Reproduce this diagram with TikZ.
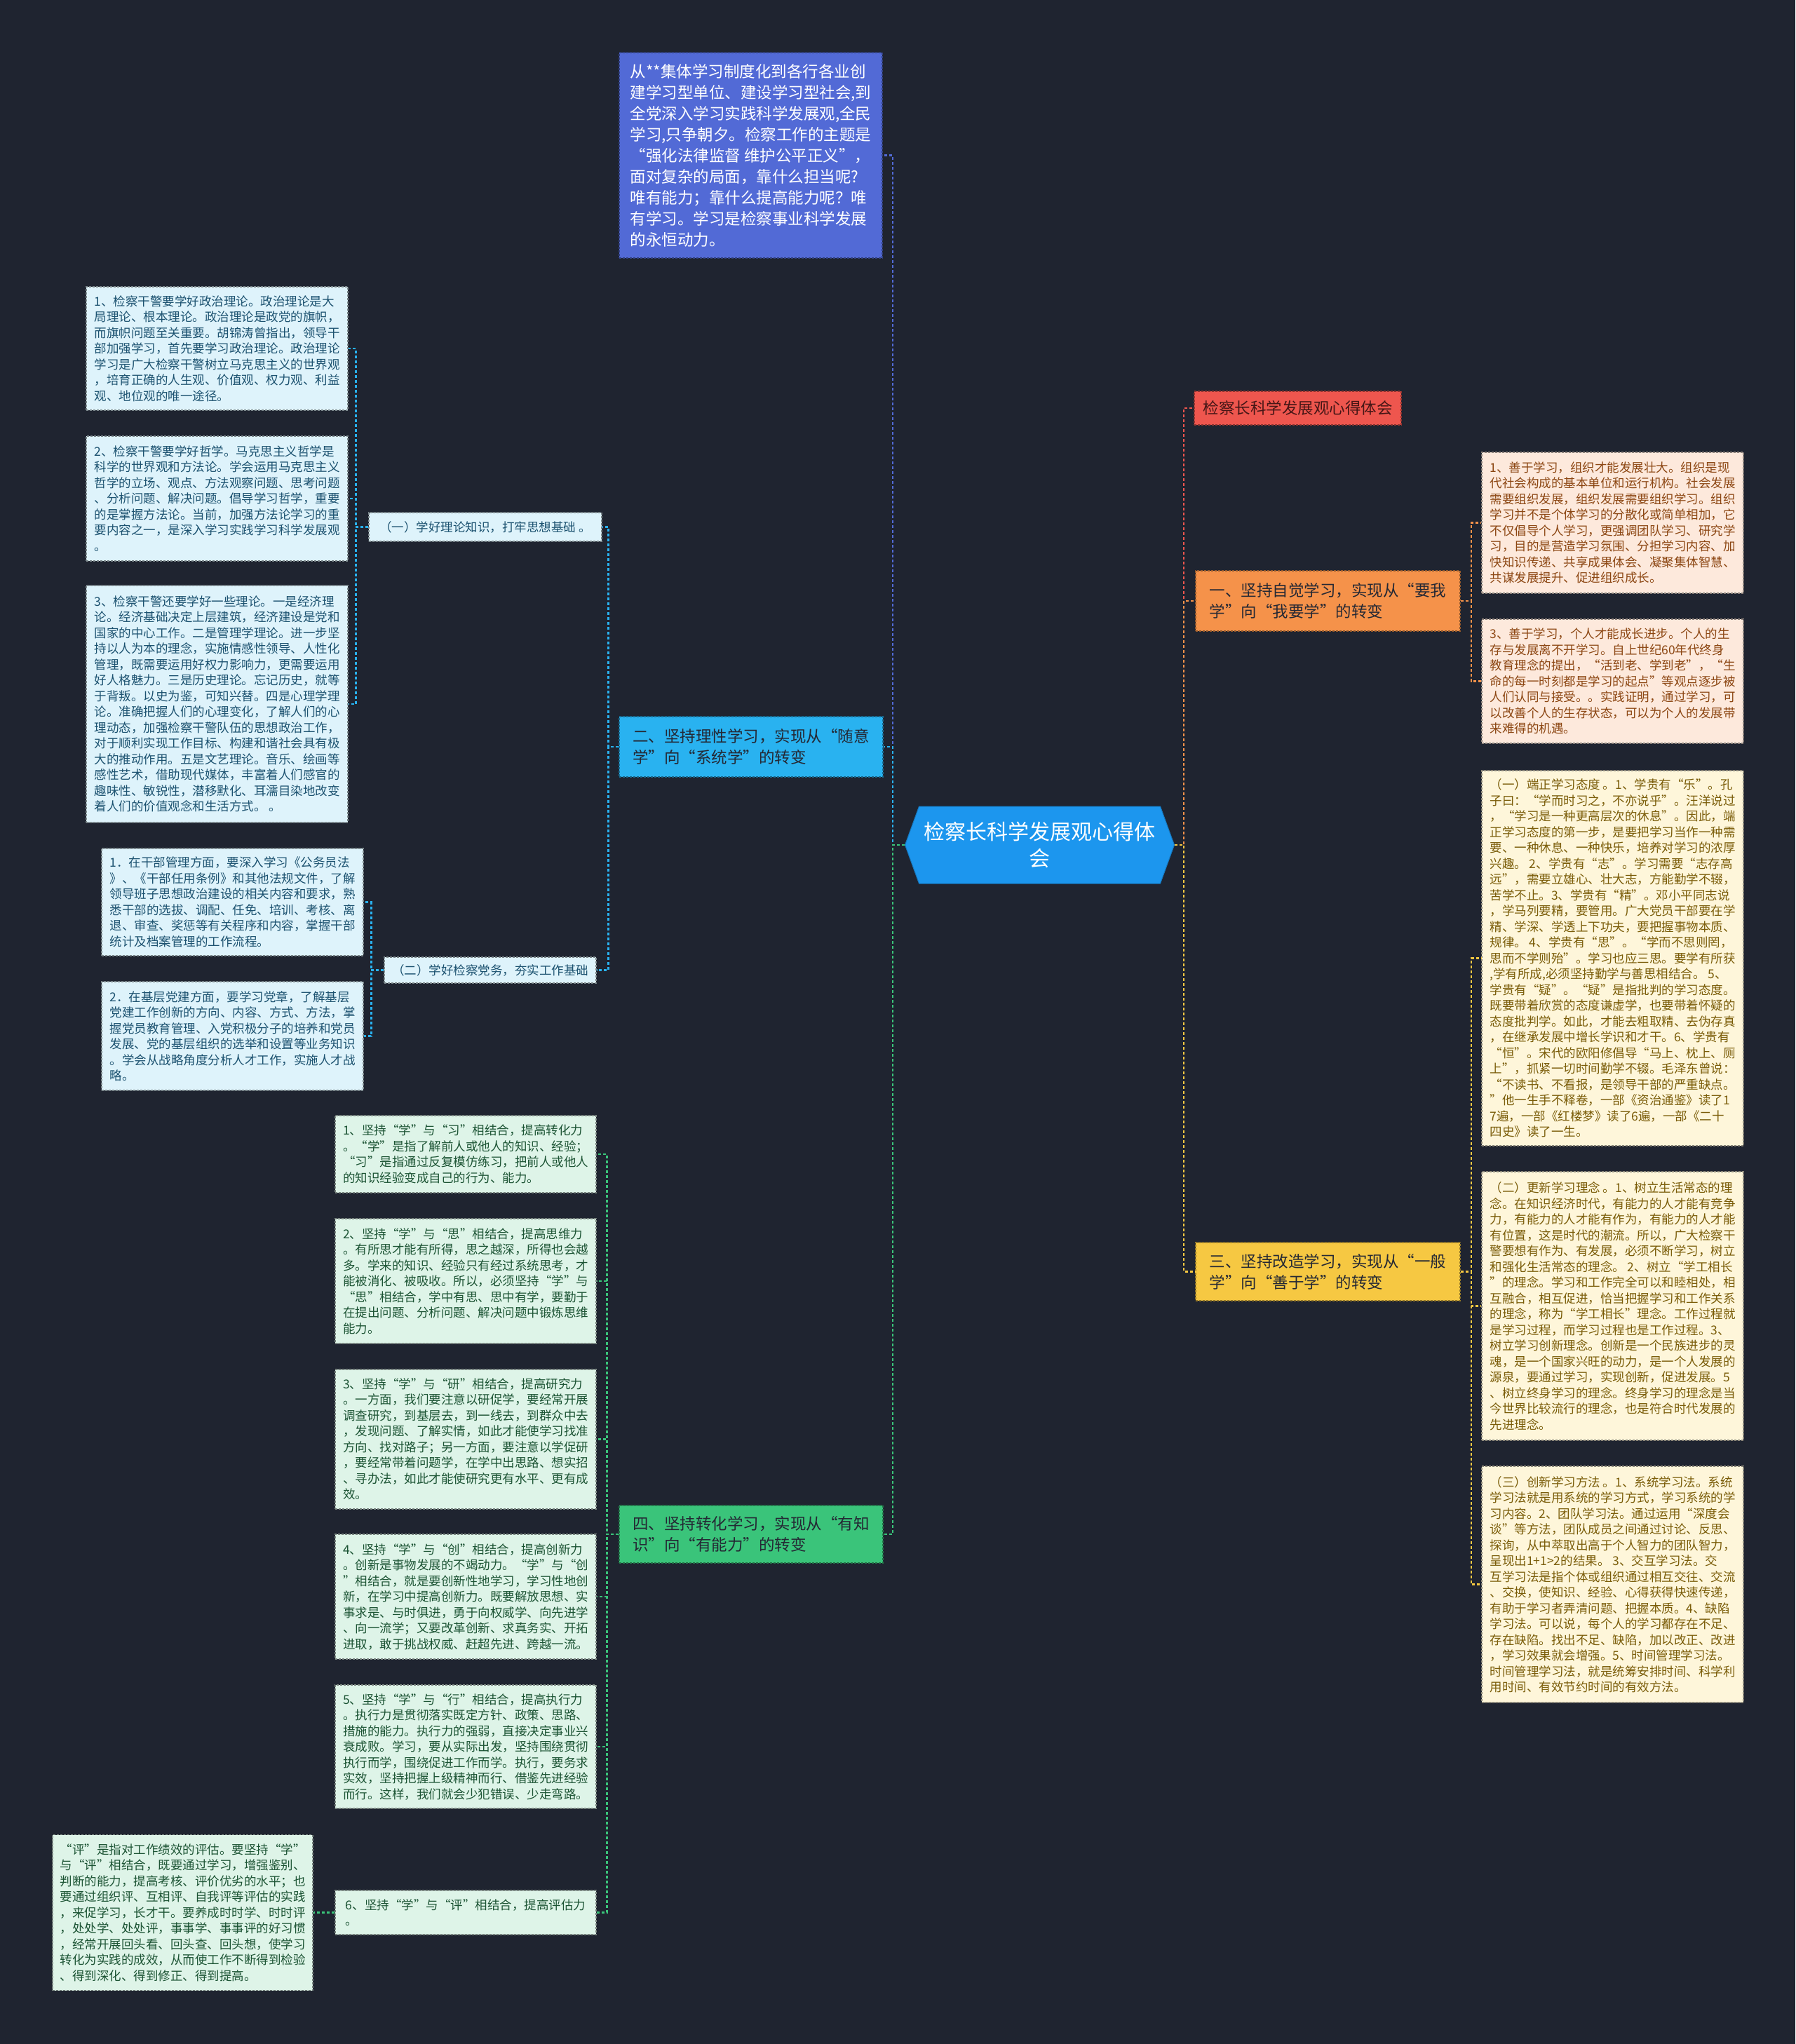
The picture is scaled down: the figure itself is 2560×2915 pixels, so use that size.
\documentclass[tikz,border=0pt]{standalone}
\usepackage{fontspec}
\setmainfont{Noto Sans CJK SC}
\usetikzlibrary{shapes.symbols}
\definecolor{bg}{RGB}{31,36,48}
\definecolor{topblue}{RGB}{82,106,214}
\definecolor{cblue}{RGB}{28,150,238}
\definecolor{bcyan}{RGB}{41,178,240}
\definecolor{bgreen}{RGB}{58,196,122}
\definecolor{bred}{RGB}{238,86,78}
\definecolor{borange}{RGB}{245,146,74}
\definecolor{byellow}{RGB}{246,200,66}
\definecolor{lblue}{RGB}{222,243,251}
\definecolor{lbluetxt}{RGB}{28,82,112}
\definecolor{lgreen}{RGB}{222,244,232}
\definecolor{lgreentxt}{RGB}{28,84,52}
\definecolor{lpeach}{RGB}{253,233,220}
\definecolor{lpeachtxt}{RGB}{140,70,18}
\definecolor{lcream}{RGB}{254,246,218}
\definecolor{lcreamtxt}{RGB}{122,92,8}
\definecolor{darktxt}{RGB}{36,40,52}
\tikzset{
  boxbase/.style={draw, dashed, dash pattern=on 3pt off 2pt, line width=1.2pt, inner sep=0pt, align=left},
  leaffont/.style={font=\fontsize{17.5}{22.5}\selectfont},
  leafblue/.style={boxbase, leaffont, fill=lblue, draw=lblue!55!black, text=lbluetxt, minimum width=373pt},
  leafgreen/.style={boxbase, leaffont, fill=lgreen, draw=lgreen!55!black, text=lgreentxt, minimum width=372pt},
  leafpeach/.style={boxbase, leaffont, fill=lpeach, draw=lpeach!55!black, text=lpeachtxt, minimum width=373pt},
  leafcream/.style={boxbase, leaffont, fill=lcream, draw=lcream!55!black, text=lcreamtxt, minimum width=373pt},
  branchbox/.style={boxbase, font=\fontsize{22.5}{30}\selectfont, text=darktxt, minimum width=376pt},
  conn/.style={line width=2.2pt, dash pattern=on 4pt off 3pt}
}
\begin{document}
\begin{tikzpicture}[x=1pt,y=-1pt]
\fill[bg] (0,0) rectangle (2560,2915);
\useasboundingbox (0,0) rectangle (2560,2915);

% center
\node[signal, signal to=west and east, signal pointer angle=140, fill=cblue, draw=cblue!80!black, line width=1pt,
  minimum width=384pt, minimum height=110pt, inner sep=0pt, align=center, text=white,
  font=\fontsize{30}{38}\selectfont] (C) at (1482.5,1205) {检察长科学发展观心得体\\会};

% top blue
\node[boxbase, fill=topblue, draw=topblue!60!black, text=white, minimum width=375pt, minimum height=293pt,
  font=\fontsize{22.5}{30}\selectfont] (TOP) at (1070.5,221.5) {从**集体学习制度化到各行各业创\\建学习型单位、建设学习型社会,到\\全党深入学习实践科学发展观,全民\\学习,只争朝夕。检察工作的主题是\\“强化法律监督 维护公平正义”，\\面对复杂的局面，靠什么担当呢?\\唯有能力；靠什么提高能力呢？唯\\有学习。学习是检察事业科学发展\\的永恒动力。};

% branch nodes
\node[branchbox, fill=bcyan, draw=bcyan!60!black, minimum height=86pt] (B2) at (1071,1065) {二、坚持理性学习，实现从“随意\\学”向“系统学”的转变};
\node[branchbox, fill=bgreen, draw=bgreen!60!black, minimum height=82pt] (B4) at (1071,2188) {四、坚持转化学习，实现从“有知\\识”向“有能力”的转变};
\node[branchbox, fill=borange, draw=borange!60!black, minimum width=377pt, minimum height=86pt] (B1) at (1893.5,857) {一、坚持自觉学习，实现从“要我\\学”向“我要学”的转变};
\node[branchbox, fill=byellow, draw=byellow!60!black, minimum width=377pt, minimum height=83pt] (B3) at (1893.5,1813.5) {三、坚持改造学习，实现从“一般\\学”向“善于学”的转变};
\node[boxbase, fill=bred, draw=bred!60!black, text={rgb,255:red,70;green,22;blue,22}, minimum width=295pt, minimum height=48pt,
  font=\fontsize{22.5}{30}\selectfont] (RED) at (1850.5,582) {检察长科学发展观心得体会};

% sub labels
\node[boxbase, leaffont, fill=lblue, draw=lblue!55!black, text=lbluetxt, minimum width=332pt, minimum height=41pt] (S1) at (692,751.5) {（一）学好理论知识，打牢思想基础 。};
\node[boxbase, leaffont, fill=lblue, draw=lblue!55!black, text=lbluetxt, minimum width=302pt, minimum height=37pt] (S2) at (699,1383.5) {（二）学好检察党务，夯实工作基础};

% left blue leaves
\node[leafblue, minimum height=176pt] (L1) at (309.5,497) {1、检察干警要学好政治理论。政治理论是大\\局理论、根本理论。政治理论是政党的旗帜，\\而旗帜问题至关重要。胡锦涛曾指出，领导干\\部加强学习，首先要学习政治理论。政治理论\\学习是广大检察干警树立马克思主义的世界观\\，培育正确的人生观、价值观、权力观、利益\\观、地位观的唯一途径。};
\node[leafblue, minimum height=178pt] (L2) at (309.5,711) {2、检察干警要学好哲学。马克思主义哲学是\\科学的世界观和方法论。学会运用马克思主义\\哲学的立场、观点、方法观察问题、思考问题\\、分析问题、解决问题。倡导学习哲学，重要\\的是掌握方法论。当前，加强方法论学习的重\\要内容之一，是深入学习实践学习科学发展观\\。};
\node[leafblue, minimum height=338pt] (L3) at (309.5,1004) {3、检察干警还要学好一些理论。一是经济理\\论。经济基础决定上层建筑，经济建设是党和\\国家的中心工作。二是管理学理论。进一步坚\\持以人为本的理念，实施情感性领导、人性化\\管理，既需要运用好权力影响力，更需要运用\\好人格魅力。三是历史理论。忘记历史，就等\\于背叛。以史为鉴，可知兴替。四是心理学理\\论。准确把握人们的心理变化，了解人们的心\\理动态，加强检察干警队伍的思想政治工作，\\对于顺利实现工作目标、构建和谐社会具有极\\大的推动作用。五是文艺理论。音乐、绘画等\\感性艺术，借助现代媒体，丰富着人们感官的\\趣味性、敏锐性，潜移默化、耳濡目染地改变\\着人们的价值观念和生活方式。 。};
\node[leafblue, minimum height=153pt] (E1) at (331.5,1286.5) {1．在干部管理方面，要深入学习《公务员法\\》、《干部任用条例》和其他法规文件，了解\\领导班子思想政治建设的相关内容和要求，熟\\悉干部的选拔、调配、任免、培训、考核、离\\退、审查、奖惩等有关程序和内容，掌握干部\\统计及档案管理的工作流程。};
\node[leafblue, minimum height=155pt] (E2) at (331.5,1477.5) {2．在基层党建方面，要学习党章，了解基层\\党建工作创新的方向、内容、方式、方法，掌\\握党员教育管理、入党积极分子的培养和党员\\发展、党的基层组织的选举和设置等业务知识\\。学会从战略角度分析人才工作，实施人才战\\略。};

% green leaves
\node[leafgreen, minimum height=110pt] (G1) at (664,1646) {1、坚持“学”与“习”相结合，提高转化力\\。“学”是指了解前人或他人的知识、经验；\\“习”是指通过反复模仿练习，把前人或他人\\的知识经验变成自己的行为、能力。};
\node[leafgreen, minimum height=178pt] (G2) at (664,1827) {2、坚持“学”与“思”相结合，提高思维力\\。有所思才能有所得，思之越深，所得也会越\\多。学来的知识、经验只有经过系统思考，才\\能被消化、被吸收。所以，必须坚持“学”与\\“思”相结合，学中有思、思中有学，要勤于\\在提出问题、分析问题、解决问题中锻炼思维\\能力。};
\node[leafgreen, minimum height=199pt] (G3) at (664,2052.5) {3、坚持“学”与“研”相结合，提高研究力\\。一方面，我们要注意以研促学，要经常开展\\调查研究，到基层去，到一线去，到群众中去\\，发现问题、了解实情，如此才能使学习找准\\方向、找对路子；另一方面，要注意以学促研\\，要经常带着问题学，在学中出思路、想实招\\、寻办法，如此才能使研究更有水平、更有成\\效。};
\node[leafgreen, minimum height=178pt] (G4) at (664,2277) {4、坚持“学”与“创”相结合，提高创新力\\。创新是事物发展的不竭动力。“学”与“创\\”相结合，就是要创新性地学习，学习性地创\\新，在学习中提高创新力。既要解放思想、实\\事求是、与时俱进，勇于向权威学、向先进学\\、向一流学；又要改革创新、求真务实、开拓\\进取，敢于挑战权威、赶超先进、跨越一流。};
\node[leafgreen, minimum height=176pt] (G5) at (664,2491) {5、坚持“学”与“行”相结合，提高执行力\\。执行力是贯彻落实既定方针、政策、思路、\\措施的能力。执行力的强弱，直接决定事业兴\\衰成败。学习，要从实际出发，坚持围绕贯彻\\执行而学，围绕促进工作而学。执行，要务求\\实效，坚持把握上级精神而行、借鉴先进经验\\而行。这样，我们就会少犯错误、少走弯路。};
\node[leafgreen, minimum height=63pt] (G6) at (664,2727.5) {6、坚持“学”与“评”相结合，提高评估力\\。};
\node[leafgreen, minimum width=371pt, minimum height=222pt] (GP) at (260.5,2727.5) {“评”是指对工作绩效的评估。要坚持“学”\\与“评”相结合，既要通过学习，增强鉴别、\\判断的能力，提高考核、评价优劣的水平；也\\要通过组织评、互相评、自我评等评估的实践\\，来促学习，长才干。要养成时时学、时时评\\，处处学、处处评，事事学、事事评的好习惯\\，经常开展回头看、回头查、回头想，使学习\\转化为实践的成效，从而使工作不断得到检验\\、得到深化、得到修正、得到提高。};

% right peach leaves
\node[leafpeach, minimum height=201pt] (R1) at (2299.5,745.5) {1、善于学习，组织才能发展壮大。组织是现\\代社会构成的基本单位和运行机构。社会发展\\需要组织发展，组织发展需要组织学习。组织\\学习并不是个体学习的分散化或简单相加，它\\不仅倡导个人学习，更强调团队学习、研究学\\习，目的是营造学习氛围、分担学习内容、加\\快知识传递、共享成果体会、凝聚集体智慧、\\共谋发展提升、促进组织成长。};
\node[leafpeach, minimum height=177pt] (R3) at (2299.5,971.5) {3、善于学习，个人才能成长进步。个人的生\\存与发展离不开学习。自上世纪60年代终身\\教育理念的提出，“活到老、学到老”，“生\\命的每一时刻都是学习的起点”等观点逐步被\\人们认同与接受。。实践证明，通过学习，可\\以改善个人的生存状态，可以为个人的发展带\\来难得的机遇。};

% right cream leaves
\node[leafcream, minimum height=535pt] (Y1) at (2299.5,1366.5) {（一）端正学习态度 。1、学贵有“乐”。孔\\子曰：“学而时习之，不亦说乎”。汪洋说过\\，“学习是一种更高层次的休息”。因此，端\\正学习态度的第一步，是要把学习当作一种需\\要、一种休息、一种快乐，培养对学习的浓厚\\兴趣。 2、学贵有“志”。学习需要“志存高\\远”，需要立雄心、壮大志，方能勤学不辍，\\苦学不止。3、学贵有“精”。邓小平同志说\\，学马列要精，要管用。广大党员干部要在学\\精、学深、学透上下功夫，要把握事物本质、\\规律。 4、学贵有“思”。“学而不思则罔，\\思而不学则殆”。学习也应三思。要学有所获\\,学有所成,必须坚持勤学与善思相结合。 5、\\学贵有“疑”。“疑”是指批判的学习态度。\\既要带着欣赏的态度谦虚学，也要带着怀疑的\\态度批判学。如此，才能去粗取精、去伪存真\\，在继承发展中增长学识和才干。6、学贵有\\“恒”。宋代的欧阳修倡导“马上、枕上、厕\\上”，抓紧一切时间勤学不辍。毛泽东曾说：\\“不读书、不看报，是领导干部的严重缺点。\\”他一生手不释卷，一部《资治通鉴》读了1\\7遍，一部《红楼梦》读了6遍，一部《二十\\四史》读了一生。};
\node[leafcream, minimum height=383pt] (Y2) at (2299.5,1862.5) {（二）更新学习理念 。1、树立生活常态的理\\念。在知识经济时代，有能力的人才能有竞争\\力，有能力的人才能有作为，有能力的人才能\\有位置，这是时代的潮流。所以，广大检察干\\警要想有作为、有发展，必须不断学习，树立\\和强化生活常态的理念。 2、树立“学工相长\\”的理念。学习和工作完全可以和睦相处，相\\互融合，相互促进，恰当把握学习和工作关系\\的理念，称为“学工相长”理念。工作过程就\\是学习过程，而学习过程也是工作过程。3、\\树立学习创新理念。创新是一个民族进步的灵\\魂，是一个国家兴旺的动力，是一个人发展的\\源泉，要通过学习，实现创新，促进发展。5\\、树立终身学习的理念。终身学习的理念是当\\今世界比较流行的理念，也是符合时代发展的\\先进理念。};
\node[leafcream, minimum height=337pt] (Y3) at (2299.5,2259.5) {（三）创新学习方法 。1、系统学习法。系统\\学习法就是用系统的学习方式，学习系统的学\\习内容。2、团队学习法。通过运用“深度会\\谈”等方法，团队成员之间通过讨论、反思、\\探询，从中萃取出高于个人智力的团队智力，\\呈现出1+1>2的结果。 3、交互学习法。交\\互学习法是指个体或组织通过相互交往、交流\\、交换，使知识、经验、心得获得快速传递，\\有助于学习者弄清问题、把握本质。4、缺陷\\学习法。可以说，每个人的学习都存在不足、\\存在缺陷。找出不足、缺陷，加以改正、改进\\，学习效果就会增强。5、时间管理学习法。\\时间管理学习法，就是统筹安排时间、科学利\\用时间、有效节约时间的有效方法。};

% connectors
\draw[conn, draw=topblue] (C.west) -- ++(-17,0) |- (TOP.east);
\draw[conn, draw=bcyan] (C.west) -- ++(-17,0) |- (B2.east);
\draw[conn, draw=bgreen] (C.west) -- ++(-17,0) |- (B4.east);
\draw[conn, draw=bred] (C.east) -- ++(13,0) |- (RED.west);
\draw[conn, draw=borange] (C.east) -- ++(13,0) |- (B1.west);
\draw[conn, draw=byellow] (C.east) -- ++(13,0) |- (B3.west);
\foreach \t in {R1,R3} \draw[conn, draw=borange] (B1.east) -- ++(15,0) |- (\t.west);
\foreach \t in {Y1,Y2,Y3} \draw[conn, draw=byellow] (B3.east) -- ++(15,0) |- (\t.west);
\foreach \t in {S1,S2} \draw[conn, draw=bcyan] (B2.west) -- ++(-15,0) |- (\t.east);
\foreach \t in {L1,L2,L3} \draw[conn, draw=bcyan] (S1.west) -- ++(-18,0) |- (\t.east);
\foreach \t in {E1,E2} \draw[conn, draw=bcyan] (S2.west) -- ++(-18,0) |- (\t.east);
\foreach \t in {G1,G2,G3,G4,G5,G6} \draw[conn, draw=bgreen] (B4.west) -- ++(-17,0) |- (\t.east);
\draw[conn, draw=bgreen] (G6.west) -- (GP.east);
\end{tikzpicture}
\end{document}
